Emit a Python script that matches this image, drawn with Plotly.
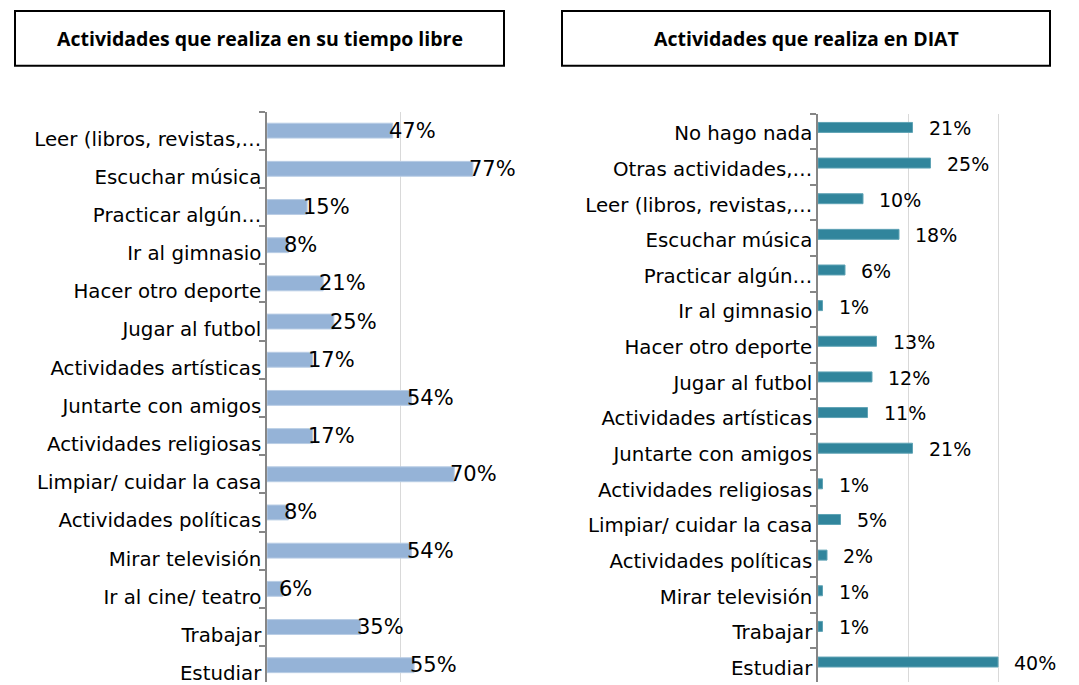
import plotly.graph_objects as go

# ---- data ----
left_title = "Actividades que realiza en su tiempo libre"
right_title = "Actividades que realiza en DIAT"

left_categories = [
    "Leer (libros, revistas,…", "Escuchar música", "Practicar algún…", "Ir al gimnasio",
    "Hacer otro deporte", "Jugar al futbol", "Actividades artísticas", "Juntarte con amigos",
    "Actividades religiosas", "Limpiar/ cuidar la casa", "Actividades políticas",
    "Mirar televisión", "Ir al cine/ teatro", "Trabajar", "Estudiar",
]
left_values = [0.47, 0.77, 0.15, 0.08, 0.21, 0.25, 0.17, 0.54, 0.17, 0.70, 0.08, 0.54, 0.06, 0.35, 0.55]

right_categories = [
    "No hago nada", "Otras actividades,…", "Leer (libros, revistas,…", "Escuchar música",
    "Practicar algún…", "Ir al gimnasio", "Hacer otro deporte", "Jugar al futbol",
    "Actividades artísticas", "Juntarte con amigos", "Actividades religiosas",
    "Limpiar/ cuidar la casa", "Actividades políticas", "Mirar televisión", "Trabajar", "Estudiar",
]
right_values = [0.21, 0.25, 0.10, 0.18, 0.06, 0.01, 0.13, 0.12, 0.11, 0.21, 0.01, 0.05, 0.02, 0.01, 0.01, 0.40]

# page body has an 8px margin; work in reference pixels and convert
OFF = 8
W, H = 1079 - OFF, 685 - OFF


def px(x):
    return (x - OFF) / W


def py(y):
    return 1 - (y - OFF) / H


LABEL_FONT = "DejaVu Sans"
TITLE_FONT = "Open Sans"

fig = go.Figure()

fig.add_trace(go.Bar(
    x=left_values, y=left_categories, orientation="h",
    marker=dict(color="#95B3D7", line=dict(color="#B9CDE5", width=1)),
    width=0.39, xaxis="x", yaxis="y", hoverinfo="x+y",
))
fig.add_trace(go.Bar(
    x=right_values, y=right_categories, orientation="h",
    marker=dict(color="#31859C", line=dict(color="#5FA3B5", width=1)),
    width=0.28, offset=-0.25, xaxis="x2", yaxis="y2", hoverinfo="x+y",
))

annotations = []
for c, v in zip(left_categories, left_values):
    annotations.append(dict(
        x=v, y=c, xref="x", yref="y", text=f"{round(v*100)}%", showarrow=False,
        xanchor="left", yanchor="middle", xshift=-6, yshift=0,
        font=dict(family=LABEL_FONT, size=21, color="#000000"),
    ))
for c, v in zip(right_categories, right_values):
    annotations.append(dict(
        x=v, y=c, xref="x2", yref="y2", text=f"{round(v*100)}%", showarrow=False,
        xanchor="left", yanchor="middle", xshift=14, yshift=3,
        font=dict(family=LABEL_FONT, size=19, color="#000000"),
    ))

# title boxes text
annotations.append(dict(
    x=px(259.5), y=py(38.5), xref="paper", yref="paper", text=f"<b>{left_title}</b>",
    showarrow=False, xanchor="center", yanchor="middle",
    font=dict(family=TITLE_FONT, size=19.5, color="#000000"),
))
annotations.append(dict(
    x=px(806), y=py(38.5), xref="paper", yref="paper", text=f"<b>{right_title}</b>",
    showarrow=False, xanchor="center", yanchor="middle",
    font=dict(family=TITLE_FONT, size=19.5, color="#000000"),
))

shapes = [
    dict(type="rect", xref="paper", yref="paper",
         x0=px(15), x1=px(504), y0=py(66), y1=py(11),
         line=dict(color="#000000", width=2), fillcolor="rgba(0,0,0,0)"),
    dict(type="rect", xref="paper", yref="paper",
         x0=px(562), x1=px(1050), y0=py(66), y1=py(11),
         line=dict(color="#000000", width=2), fillcolor="rgba(0,0,0,0)"),
]

axis_common_y = dict(
    type="category", showgrid=False, zeroline=False,
    showline=True, linecolor="#868686", linewidth=1.5,
    ticks="outside", ticklen=6, tickcolor="#868686", tickwidth=1.5,
    tickson="boundaries",
    tickfont=dict(family=LABEL_FONT, size=19.8, color="#000000"),
)

fig.update_layout(
    width=W, height=H,
    margin=dict(l=0, r=0, t=0, b=0),
    paper_bgcolor="white", plot_bgcolor="white",
    showlegend=False,
    annotations=annotations,
    shapes=shapes,
    xaxis=dict(domain=[px(267), px(534.5)], range=[0, 1], dtick=0.5,
               showgrid=True, gridcolor="#D9D9D9", gridwidth=1.3,
               showticklabels=False, zeroline=False, showline=False, ticks=""),
    yaxis=dict(domain=[0, py(112)], range=[14.44, -0.5], ticklabelshift=-8,
               anchor="x", **axis_common_y),
    xaxis2=dict(domain=[px(818), 1.0], range=[0, (1079 - 818) / 450], dtick=0.2,
                showgrid=True, gridcolor="#D9D9D9", gridwidth=1.3,
                showticklabels=False, zeroline=False, showline=False, ticks="",
                anchor="y2"),
    yaxis2=dict(domain=[0, py(114)], range=[15.45, -0.5], ticklabelshift=-2,
                anchor="x2", **axis_common_y),
)

fig.write_html("out.html")
